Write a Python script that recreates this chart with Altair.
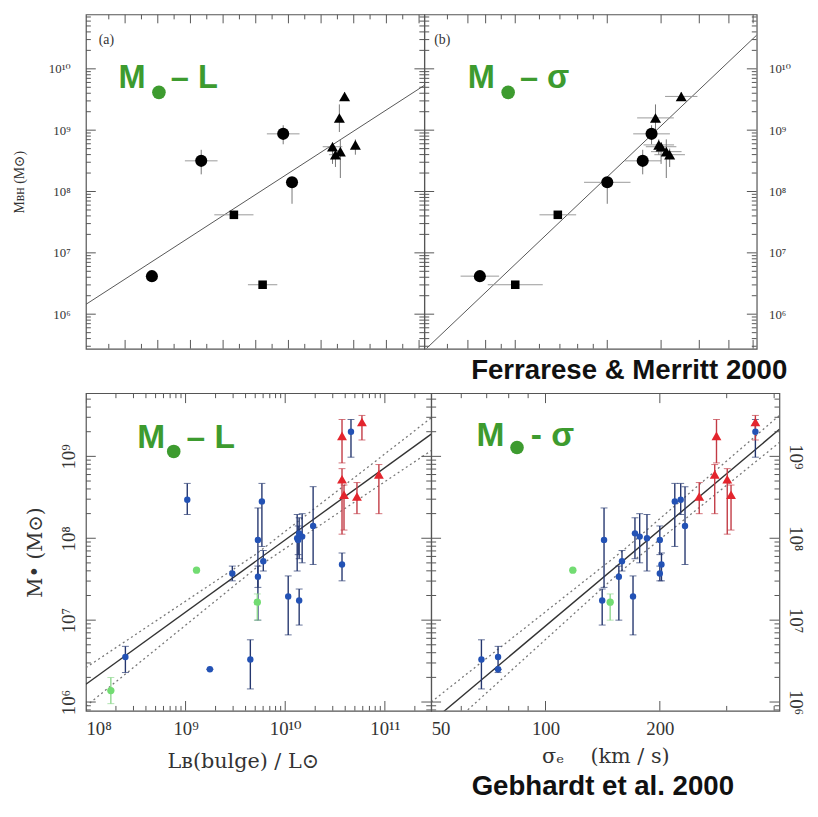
import altair as alt
import pandas as pd

# ---------------- Ferrarese & Merritt 2000 (top row) ----------------
fm_kind = ["circle", "circle", "circle", "circle", "square", "square",
           "triangle", "triangle", "triangle", "triangle", "triangle", "triangle"]
fm_magB = [-14.82, -16.33, -18.84, -19.11, -17.33, -18.21,
           -20.72, -20.56, -20.35, -21.05, -20.44, -20.59]
fm_magB_err = [0.0, 0.5, 0.5, 0.0, 0.6, 0.45, 0.0, 0.0, 0.3, 0.0, 0.2, 0.0]
fm_sigma = [38.3, 130.6, 139.6, 100.0, 68.9, 50.0,
            174.6, 143.8, 150.0, 147.4, 160.0, 156.0]
fm_sigma_err_dex = [0.063, 0.06, 0.06, 0.076, 0.06, 0.09, 0.053, 0.06, 0.05, 0.05, 0.05, 0.05]
fm_logM = [6.62, 8.50, 8.94, 8.15, 7.62, 6.48, 9.55, 9.20, 8.73, 8.76, 8.60, 8.65]
fm_logM_lo = [6.62, 8.28, 8.77, 7.80, 7.62, 6.48, 9.55, 8.97, 8.45, 8.60, 8.40, 8.22]
fm_logM_hi = [6.62, 8.68, 9.08, 8.20, 7.62, 6.48, 9.62, 9.42, 8.80, 8.85, 8.70, 8.85]
fm_fitL_mag = [-12.8, -23.16]
fm_fitL_logM = [6.16, 9.73]
fm_fitS_sigma = [25.6, 308.3]
fm_fitS_logM = [5.44, 10.55]

# ---------------- Gebhardt et al. 2000 (bottom row) ----------------
g_kind = ["blue"] * 18 + ["green"] * 3 + ["red"] * 6
g_logL = [8.396, 9.017, 9.244, 9.469, 9.65, 9.726, 9.726, 9.766, 9.78, 10.03, 10.12, 10.14,
          10.14, 10.17, 10.28, 10.57, 10.66, 10.13,
          8.25, 9.11, 9.72,
          10.57, 10.77, 10.57, 10.59, 10.72, 10.94]
g_sigma = [75, 227, 75, 200, 67.8, 142.6, 156, 219, 159, 170, 185, 141,
           172, 177, 233, 202, 357, 200,
           None, 118, 148,
           282, 357, 301, 308, 254, 279]
g_logM = [6.55, 8.47, 6.40, 7.57, 6.52, 7.98, 7.53, 8.45, 7.72, 7.29, 8.00, 7.24,
          8.06, 8.02, 8.15, 7.68, 9.30, 7.98,
          6.14, 7.61, 7.22,
          9.25, 9.42, 8.72, 8.53, 8.51, 8.78]
g_logM_lo = [6.36, 8.29, 6.40, 7.48, 6.16, 7.40, 7.00, 7.90, 7.60, 6.82, 7.60, 6.94,
             7.75, 7.70, 7.68, 7.48, 8.99, 7.80,
             5.98, 7.61, 7.00,
             8.92, 9.20, 8.05, 8.10, 8.30, 8.30]
g_logM_hi = [6.68, 8.67, 6.40, 7.66, 6.76, 8.37, 7.66, 8.67, 7.85, 7.54, 8.29, 7.38,
             8.25, 8.30, 8.63, 7.82, 9.45, 8.15,
             6.30, 7.61, 7.32,
             9.45, 9.50, 8.85, 8.65, 8.68, 8.90]
g_fitL_logL = [8.0, 11.465]
g_fitL_logM = [6.217, 9.272]
g_bandL_logL = [8.0, 9.7, 11.465]
g_bandL_up = [6.42, 7.80, 9.47]
g_bandL_lo = [5.95, 7.63, 9.07]
g_fitS_sigma = [50, 413]
g_fitS_logM = [5.755, 9.33]
g_bandS_sigma = [50, 160, 413]
g_bandS_up = [6.0, 7.85, 9.50]
g_bandS_lo = [5.5, 7.62, 9.17]

# ---------------- styling ----------------
SERIF = "Liberation Serif, DejaVu Serif, serif"
WSERIF = "DejaVu Serif, Liberation Serif, serif"
SANS = "Liberation Sans, Arial, Helvetica, sans-serif"
GREEN = "#3d9b2f"
FRAME = "#555555"
TXT = "#333333"
NB = "\u00a0"

WA, WB, HT = 343, 337, 339
WC, WD, HB = 350, 353, 322


def sup(n):
    return str(n).translate(str.maketrans("0123456789", "⁰¹²³⁴⁵⁶⁷⁸⁹"))


def pow_expr(exps):
    s = "''"
    for e in sorted(exps, reverse=True):
        s = f"abs(log(datum.value)/LN10 - {e}) < 0.01 ? '10{sup(e)}' : ({s})"
    return s


def minor_log(e0, e1, lo, hi):
    return [m * 10 ** e for e in range(e0, e1 + 1) for m in range(2, 10) if lo <= m * 10 ** e <= hi]


def ticks_y(vals, size, scale, axis, w):
    df = pd.DataFrame({"v": vals})
    base = alt.Chart(df).mark_rule(color=FRAME, strokeWidth=1, clip=True)
    enc = alt.Y("v:Q", scale=scale, axis=axis)
    return [base.encode(y=enc, x=alt.value(0), x2=alt.value(size)),
            base.encode(y=enc, x=alt.value(w), x2=alt.value(w - size))]


def ticks_x(vals, size, scale, axis, h):
    df = pd.DataFrame({"v": vals})
    base = alt.Chart(df).mark_rule(color=FRAME, strokeWidth=1, clip=True)
    enc = alt.X("v:Q", scale=scale, axis=axis)
    return [base.encode(x=enc, y=alt.value(h), y2=alt.value(h - size)),
            base.encode(x=enc, y=alt.value(0), y2=alt.value(size))]


def green_label(mx, base_y, dx, dy, tx, rest, fs, dot):
    one = pd.DataFrame({"a": [0]})
    kw = dict(font=SANS, fontSize=fs, fontWeight="bold", color=GREEN, align="left", baseline="alphabetic")
    return [
        alt.Chart(one).mark_text(text="M", **kw).encode(x=alt.value(mx), y=alt.value(base_y)),
        alt.Chart(one).mark_circle(color=GREEN, opacity=1, size=dot).encode(x=alt.value(dx), y=alt.value(dy)),
        alt.Chart(one).mark_text(text=rest, **kw).encode(x=alt.value(tx), y=alt.value(base_y)),
    ]


def note(text, x, y, fs, align="left", font=SERIF, weight="normal", color=TXT):
    one = pd.DataFrame({"a": [0]})
    return alt.Chart(one).mark_text(text=text, font=font, fontSize=fs, fontWeight=weight,
                                    color=color, align=align, baseline="alphabetic").encode(
        x=alt.value(x), y=alt.value(y))


# ---------------- top row ----------------
fm = pd.DataFrame({"kind": fm_kind, "mag": fm_magB, "mag_err": fm_magB_err,
                   "sigma": fm_sigma, "sig_err": fm_sigma_err_dex,
                   "logM": fm_logM, "logM_lo": fm_logM_lo, "logM_hi": fm_logM_hi})
fm["M"] = 10 ** fm["logM"]
fm["M_lo"] = 10 ** fm["logM_lo"]
fm["M_hi"] = 10 ** fm["logM_hi"]
fm["mag_lo"] = fm["mag"] - fm["mag_err"]
fm["mag_hi"] = fm["mag"] + fm["mag_err"]
fm["sig_lo"] = fm["sigma"] / 10 ** fm["sig_err"]
fm["sig_hi"] = fm["sigma"] * 10 ** fm["sig_err"]

fitA = pd.DataFrame({"x": fm_fitL_mag, "M": [10 ** v for v in fm_fitL_logM]})
fitB = pd.DataFrame({"x": fm_fitS_sigma, "M": [10 ** v for v in fm_fitS_logM]})

yT = alt.Scale(type="log", domain=[10 ** 5.435, 10 ** 10.887], nice=False)
xA = alt.Scale(type="linear", domain=[-23.16, -12.8], reverse=True, nice=False, zero=False)
xB = alt.Scale(type="log", domain=[25.2, 308.3], nice=False)

TOP_MARKERS = [("circle", "circle", 150), ("square", "square", 75), ("triangle", "triangle-up", 125)]


def top_axis(orient):
    kw = dict(orient=orient, values=[1e6, 1e7, 1e8, 1e9, 1e10], labelExpr=pow_expr(range(6, 11)),
              ticks=False, tickSize=0, domain=False, grid=False, labelFont=SERIF,
              labelFontSize=13, labelColor=TXT)
    if orient == "left":
        return alt.Axis(labelPadding=16, title="Mʙʜ (M⊙)", titleFont=SERIF, titleFontSize=14,
                        titleFontWeight="normal", titleColor=TXT, titlePadding=22, **kw)
    return alt.Axis(labelPadding=12, title="", **kw)


def top_panel(xfield, xlo, xhi, xscale, fit, orient, w, label_layers, tag, tagx, xmaj, xmin):
    ya = top_axis(orient)
    X = lambda f: alt.X(f"{f}:Q", scale=xscale, axis=None)
    Y = lambda f: alt.Y(f"{f}:Q", scale=yT, axis=ya)
    err_v = alt.Chart(fm).mark_rule(color="#777777", strokeWidth=1).encode(
        x=X(xfield), y=Y("M_lo"), y2="M_hi:Q")
    err_h = alt.Chart(fm).mark_rule(color="#999999", strokeWidth=1).encode(
        x=X(xlo), x2=f"{xhi}:Q", y=Y("M"))
    line = alt.Chart(fit).mark_line(color="#555555", strokeWidth=1, clip=True).encode(
        x=X("x"), y=Y("M"))
    pts = [alt.Chart(fm).transform_filter(alt.datum.kind == k)
           .mark_point(filled=True, opacity=1, color="black", shape=shp, size=sz)
           .encode(x=X(xfield), y=Y("M")) for k, shp, sz in TOP_MARKERS]
    tk = (ticks_y([1e6, 1e7, 1e8, 1e9, 1e10], 10, yT, ya, w)
          + ticks_y(minor_log(5, 10, 10 ** 5.435, 10 ** 10.887), 5, yT, ya, w)
          + ticks_x(xmaj, 9, xscale, None, HT) + ticks_x(xmin, 5, xscale, None, HT))
    return [line, err_h, err_v] + pts + tk + label_layers + [note(tag, tagx, 30, 14)]


layers_a = top_panel("mag", "mag_lo", "mag_hi", xA, fitA, "left", WA,
                     green_label(33, 75, 74, 79, 86, "– L", 33, 190), "(a)", 13,
                     [-14, -15, -16, -17, -18, -19, -20, -21, -22, -23],
                     [-13.5, -14.5, -15.5, -16.5, -17.5, -18.5, -19.5, -20.5, -21.5, -22.5])
layers_b = top_panel("sigma", "sig_lo", "sig_hi", xB, fitB, "right", WB,
                     green_label(44, 75, 85, 79, 97, "– σ", 33, 190), "(b)", 10,
                     [35, 40, 50, 100, 150, 200, 250, 300], [30, 45, 60, 70, 80, 90])
layers_b.append(note("Ferrarese & Merritt 2000", 368, 370, 28, align="right",
                     font=SANS, weight="bold", color="#111111"))
panel_a = alt.layer(*layers_a).properties(width=WA, height=HT)
panel_b = alt.layer(*layers_b).properties(width=WB, height=HT)

# ---------------- bottom row ----------------
g = pd.DataFrame({"kind": g_kind, "logL": g_logL, "sigma": g_sigma,
                  "logM": g_logM, "logM_lo": g_logM_lo, "logM_hi": g_logM_hi})
g["L"] = 10 ** g["logL"]
g["M"] = 10 ** g["logM"]
g["M_lo"] = 10 ** g["logM_lo"]
g["M_hi"] = 10 ** g["logM_hi"]
g_d = g.dropna(subset=["sigma"]).copy()

yB = alt.Scale(type="log", domain=[10 ** 5.892, 10 ** 9.771], nice=False)
xC = alt.Scale(type="log", domain=[1e8, 10 ** 11.465], nice=False)
xD = alt.Scale(type="log", domain=[50, 413], nice=False)

err_sc = alt.Scale(domain=["blue", "green", "red"], range=["#25376f", "#8fd88f", "#c23a44"])
BOT_MARKERS = [("blue", "circle", "#2352b5", 42), ("green", "circle", "#72dc72", 55),
               ("red", "triangle-up", "#e3252d", 100)]


def bottom_yaxis(orient):
    kw = dict(orient=orient, values=[1e6, 1e7, 1e8, 1e9], labelExpr=pow_expr(range(6, 10)),
              ticks=False, tickSize=0, domain=False, grid=False, labelFont=SERIF,
              labelFontSize=19, labelColor=TXT, labelAlign="center", labelBaseline="bottom")
    if orient == "left":
        return alt.Axis(labelAngle=-90, labelPadding=8, title="M• (M⊙)", titleFont=WSERIF,
                        titleFontSize=20, titleFontWeight="normal", titleColor=TXT,
                        titlePadding=14, **kw)
    return alt.Axis(labelAngle=90, labelPadding=6, title="", **kw)


def bottom_panel(df, xfield, xscale, xaxis, yorient, w, band_df, fit_df, labels, xmaj, xmin):
    ya = bottom_yaxis(yorient)
    X = lambda f: alt.X(f"{f}:Q", scale=xscale, axis=xaxis)
    Y = lambda f: alt.Y(f"{f}:Q", scale=yB, axis=ya)
    band = alt.Chart(band_df).mark_line(color="#777777", strokeWidth=1.3, strokeDash=[2, 3],
                                        clip=True).encode(x=X("x"), y=Y("M"), detail="side:N")
    fit = alt.Chart(fit_df).mark_line(color="#333333", strokeWidth=1.4, clip=True).encode(
        x=X("x"), y=Y("M"))
    col = alt.Color("kind:N", scale=err_sc, legend=None)
    err = alt.Chart(df).mark_rule(strokeWidth=1.4).encode(x=X(xfield), y=Y("M_lo"), y2="M_hi:Q",
                                                           color=col)
    cap_lo = alt.Chart(df).mark_tick(orient="horizontal", size=7, thickness=1).encode(
        x=X(xfield), y=Y("M_lo"), color=col)
    cap_hi = alt.Chart(df).mark_tick(orient="horizontal", size=7, thickness=1).encode(
        x=X(xfield), y=Y("M_hi"), color=col)
    pts = [alt.Chart(df).transform_filter(alt.datum.kind == k)
           .mark_point(filled=True, opacity=1, shape=shp, color=c, size=sz)
           .encode(x=X(xfield), y=Y("M")) for k, shp, c, sz in BOT_MARKERS]
    tk = (ticks_y([1e6, 1e7, 1e8, 1e9], 10, yB, ya, w)
          + ticks_y(minor_log(5, 9, 10 ** 5.892, 10 ** 9.771), 5, yB, ya, w)
          + ticks_x(xmaj, 10, xscale, xaxis, HB) + ticks_x(xmin, 5, xscale, xaxis, HB))
    return alt.layer(band, fit, err, cap_lo, cap_hi, *pts, *tk, *labels).properties(width=w, height=HB)


bandC = pd.DataFrame({"x": [10 ** v for v in g_bandL_logL] * 2,
                      "M": [10 ** v for v in g_bandL_up + g_bandL_lo],
                      "side": ["up"] * 3 + ["lo"] * 3})
fitC = pd.DataFrame({"x": [10 ** v for v in g_fitL_logL], "M": [10 ** v for v in g_fitL_logM]})
bandD = pd.DataFrame({"x": g_bandS_sigma * 2,
                      "M": [10 ** v for v in g_bandS_up + g_bandS_lo],
                      "side": ["up"] * 3 + ["lo"] * 3})
fitD = pd.DataFrame({"x": g_fitS_sigma, "M": [10 ** v for v in g_fitS_logM]})

xaxisC = alt.Axis(orient="bottom", values=[1e8, 1e9, 1e10, 1e11], labelExpr=pow_expr(range(8, 12)),
                  ticks=False, tickSize=0, domain=False, grid=False, labelFont=SERIF,
                  labelFontSize=19, labelColor=TXT, labelPadding=9, title="Lʙ(bulge) / L⊙",
                  titleFont=WSERIF, titleFontSize=21, titleFontWeight="normal", titleColor=TXT,
                  titlePadding=12, titleX=159)
xaxisD = alt.Axis(orient="bottom", values=[50, 100, 200], format="d", ticks=False, tickSize=0,
                  domain=False, grid=False, labelFont=SERIF, labelFontSize=19, labelColor=TXT,
                  labelPadding=9, title=f"σₑ{NB}{NB}{NB}{NB}(km / s)", titleFont=WSERIF,
                  titleFontSize=21, titleFontWeight="normal", titleColor=TXT, titlePadding=7)

panel_c = bottom_panel(g, "L", xC, xaxisC, "left", WC, bandC, fitC,
                       green_label(52, 56, 89, 59, 102, "– L", 34, 190),
                       [1e8, 1e9, 1e10, 1e11], minor_log(8, 11, 1e8, 10 ** 11.465))
panel_d = bottom_panel(g_d, "sigma", xD, xaxisD, "right", WD, bandD, fitD,
                       green_label(46, 54, 87, 55, 101, "- σ", 34, 190) +
                       [note("Gebhardt et al. 2000", 174, 407, 28, align="center",
                             font=SANS, weight="bold", color="#111111")],
                       [50, 100, 200], [60, 70, 80, 90, 300, 400])

top = alt.hconcat(panel_a, panel_b, spacing=0, bounds="flush")
bottom = alt.hconcat(panel_c, panel_d, spacing=0, bounds="flush")
chart = (alt.vconcat(top, bottom, spacing=6)
         .properties(padding={"left": 4, "top": 0, "right": 5, "bottom": 5}, background="white")
         .configure_view(stroke=FRAME, strokeWidth=1.2))

chart.save("out.html", embed_options={"renderer": "svg", "actions": False})
